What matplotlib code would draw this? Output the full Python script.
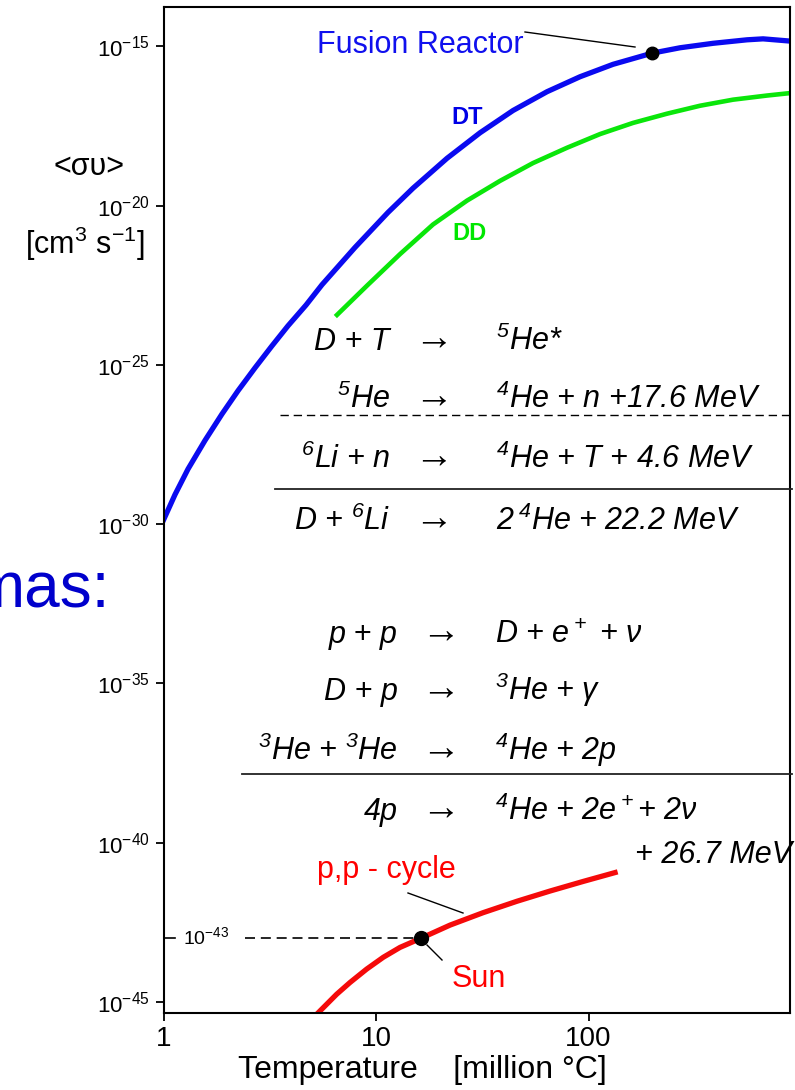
import numpy as np
import matplotlib.pyplot as plt
from matplotlib.lines import Line2D

plt.rcParams['font.family'] = ['Liberation Sans', 'DejaVu Sans']
plt.rcParams['mathtext.default'] = 'regular'

# Reactivity <sigma v> [cm^3/s] vs temperature [million deg C], stored as log10 values
dt_temp = [1.0, 1.133, 1.304, 1.568, 1.885, 2.242, 2.696, 3.231, 3.854, 4.684, 5.57,
           7.964, 11.39, 14.93, 21.59, 30.86, 44.13, 63.77, 91.2, 130.4, 199, 269.6,
           385.4, 557, 662.6, 887]
dt_log_rate = [-29.87, -29.07, -28.27, -27.37, -26.54, -25.81, -25.09, -24.41, -23.77,
               -23.12, -22.48, -21.31, -20.21, -19.45, -18.51, -17.71, -17.01, -16.42,
               -15.95, -15.56, -15.21, -15.04, -14.90, -14.79, -14.76, -14.83]

dd_temp = [6.55, 9.07, 12.97, 18.54, 26.8, 38.33, 54.8, 79.2, 113.3, 161.9, 234, 335,
           478.6, 692, 869]
dd_log_rate = [-23.43, -22.51, -21.52, -20.59, -19.84, -19.22, -18.66, -18.18, -17.75,
               -17.40, -17.11, -16.86, -16.67, -16.54, -16.47]

pp_temp = [5.35, 6.53, 7.55, 9.04, 10.82, 12.97, 16.3, 22.3, 31.9, 46.1, 65.9, 94.2, 133.3]
pp_log_rate = [-45.34, -44.76, -44.39, -43.97, -43.60, -43.29, -43.0, -42.59, -42.20,
               -41.84, -41.52, -41.22, -40.94]

reactor_temp, reactor_log_rate = 199, -15.21
sun_temp, sun_log_rate = 16.3, -43.0

x_ticks = [1, 10, 100]
x_ticklabels = ['1', '10', '100']
y_tick_exps = [-15, -20, -25, -30, -35, -40, -45]

W, H = 795, 1090
fig = plt.figure(figsize=(W / 100, H / 100), dpi=100)
ax = fig.add_axes([163.5 / W, 1 - 1013 / H, 626.5 / W, 1006 / H])


def px(x, y):
    # pixel position (from top-left) -> figure fraction
    return x / W, 1 - y / H


ax.plot(dt_temp, 10.0 ** np.array(dt_log_rate), color='#0a0af0', lw=3.8)
ax.plot(dd_temp, 10.0 ** np.array(dd_log_rate), color='#0ae60a', lw=3.3)
ax.plot(pp_temp, 10.0 ** np.array(pp_log_rate), color='#f50a0a', lw=3.8)
ax.plot(reactor_temp, 10.0 ** reactor_log_rate, 'o', color='k', ms=9)
ax.plot(sun_temp, 10.0 ** sun_log_rate, 'o', color='k', ms=10)

# Sun's reactivity marker: short inner tick and dashed guide
ax.plot([1, 1.13], [10.0 ** sun_log_rate] * 2, color='k', lw=1.2)
ax.plot([2.42, sun_temp], [10.0 ** sun_log_rate] * 2, color='k', lw=1.2, ls=(0, (6, 3.5)))
fig.text(*px(183, 944), r'$10^{-43}$', fontsize=14, va='baseline')

ax.set_xscale('log')
ax.set_yscale('log')
ax.set_xlim(1, 887)
ax.set_ylim(10 ** -45.35, 10 ** -13.76)
ax.set_xticks(x_ticks, x_ticklabels)
ax.set_yticks([10.0 ** e for e in y_tick_exps], [rf'$10^{{{e}}}$' for e in y_tick_exps])
ax.minorticks_off()
ax.tick_params(axis='x', labelsize=20, length=6, width=1.3, pad=3)
ax.tick_params(axis='y', labelsize=16, length=6, width=1.3, pad=4)
for s in ax.spines.values():
    s.set_linewidth(1.5)

# axis labels
fig.text(*px(89, 167), '<συ>', ha='center', va='center', fontsize=22)
fig.text(*px(85, 244), r'[cm$^3$ s$^{-1}$]', ha='center', va='center', fontsize=22)
fig.text(*px(422, 1070), 'Temperature    [million °C]', ha='center', va='center', fontsize=23)

fig.text(*px(110, 607), 'mas:', ha='right', va='baseline', fontsize=46, color='#0000cc')

# curve labels
fig.text(*px(317, 53), 'Fusion Reactor', va='baseline', fontsize=22, color='#1010ee')
fig.add_artist(Line2D([525 / W, 635 / W], [1 - 32 / H, 1 - 47 / H], color='k', lw=1))
fig.text(*px(467, 117), 'DT', ha='center', va='center', fontsize=17, fontweight='bold',
         color='#0000e6')
fig.text(*px(470, 234), 'DD', ha='center', va='center', fontsize=17, fontweight='bold',
         color='#00e600')
fig.text(*px(317, 878), 'p,p - cycle', va='baseline', fontsize=22, color='#ff0000')
fig.add_artist(Line2D([408 / W, 463 / W], [1 - 893 / H, 1 - 913 / H], color='k', lw=1))
fig.text(*px(452, 987), 'Sun', va='baseline', fontsize=22, color='#ff0000')
fig.add_artist(Line2D([427 / W, 442 / W], [1 - 945 / H, 1 - 960 / H], color='k', lw=1))

# reaction equations
eq_kw = dict(fontsize=22, style='italic', va='baseline')


def reaction(y, left, right, xl, xa, xr):
    fig.text(*px(xl, y), left, ha='right', **eq_kw)
    fig.text(*px(xa, y), '→', ha='center', va='baseline', fontsize=28)
    fig.text(*px(xr, y), right, ha='left', **eq_kw)


reaction(350, 'D + T', r'$^5$He*', 390, 434, 496)
reaction(408, r'$^5$He', r'$^4$He + n +17.6 MeV', 390, 434, 496)
reaction(468, r'$^6$Li + n', r'$^4$He + T + 4.6 MeV', 390, 434, 496)
reaction(530, r'D + $^6$Li', r'2$\,^4$He + 22.2 MeV', 390, 434, 496)
fig.add_artist(Line2D([280 / W, 792 / W], [1 - 415 / H] * 2, color='k', lw=1, ls=(0, (6, 3.5))))
fig.add_artist(Line2D([275 / W, 792 / W], [1 - 489 / H] * 2, color='#222222', lw=1.3))

reaction(643, 'p + p', r'D + e$^+$ + ν', 398, 441, 495)
reaction(700, 'D + p', r'$^3$He + γ', 398, 441, 495)
reaction(760, r'$^3$He + $^3$He', r'$^4$He + 2p', 398, 441, 495)
reaction(820, '4p', r'$^4$He + 2e$^+$+ 2ν', 398, 441, 495)
fig.text(*px(635, 863), '+ 26.7 MeV', **eq_kw)
fig.add_artist(Line2D([242 / W, 792 / W], [1 - 774 / H] * 2, color='#222222', lw=1.3))

fig.savefig('out.png', dpi=100)
